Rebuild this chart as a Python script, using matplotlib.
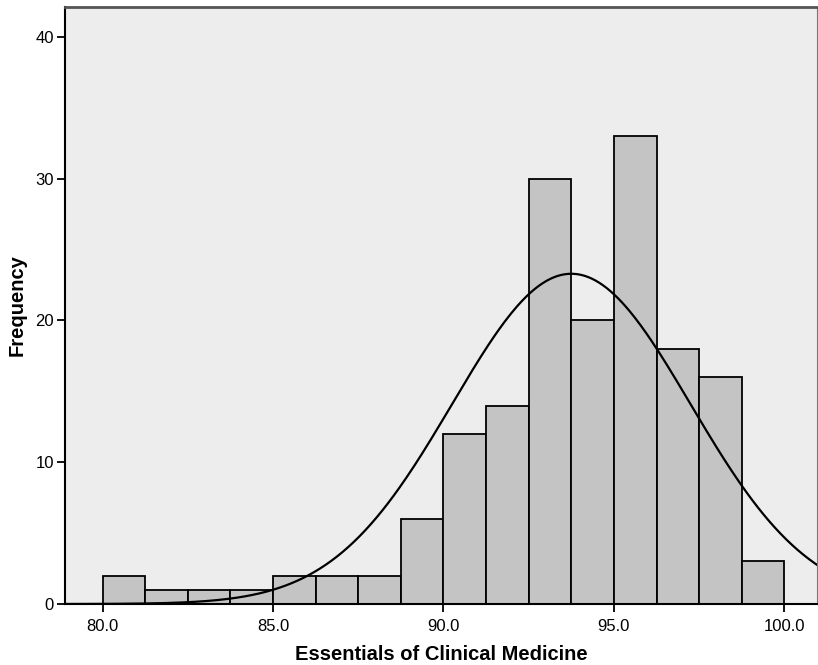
import numpy as np
import matplotlib
matplotlib.use("Agg")
import matplotlib.pyplot as plt

plt.rcParams['font.family'] = ['Liberation Sans', 'DejaVu Sans']

# histogram bins (width 1.25) and counts
bin_edges = [80.0, 81.25, 82.5, 83.75, 85.0, 86.25, 87.5, 88.75, 90.0,
             91.25, 92.5, 93.75, 95.0, 96.25, 97.5, 98.75, 100.0]
counts = [2, 1, 1, 1, 2, 2, 2, 6, 12, 14, 30, 20, 33, 18, 16, 3]

# fitted normal curve parameters
mean = 93.75
std_dev = 3.49
n_total = sum(counts)
bin_width = 1.25

xticks = [80.0, 85.0, 90.0, 95.0, 100.0]
yticks = [0, 10, 20, 30, 40]

fig = plt.figure(figsize=(8.18, 6.65), dpi=100)
ax = fig.add_axes([0.0795, 0.0917, 0.919, 0.8977])
ax.set_facecolor('#ededed')

ax.bar(bin_edges[:-1], counts, width=np.diff(bin_edges), align='edge',
       color='#c4c4c4', edgecolor='black', linewidth=1.3, zorder=2)

xs = np.linspace(78.9, 101, 400)
ys = n_total * bin_width / (std_dev * np.sqrt(2 * np.pi)) * np.exp(-0.5 * ((xs - mean) / std_dev) ** 2)
ax.plot(xs, ys, color='black', linewidth=1.6, zorder=3)

ax.set_xlim(78.9, 100.95)
ax.set_ylim(0, 42.1)
ax.set_xticks(xticks)
ax.set_xticklabels(['%.1f' % t for t in xticks])
ax.set_yticks(yticks)
ax.tick_params(axis='both', direction='out', length=6, width=1.3, labelsize=12, colors='black')
ax.tick_params(axis='x', pad=5)
ax.tick_params(axis='y', pad=2)

ax.spines['left'].set_linewidth(1.5)
ax.spines['bottom'].set_linewidth(1.5)
ax.spines['top'].set_color('#555555')
ax.spines['top'].set_linewidth(2)
ax.spines['right'].set_color('#777777')
ax.spines['right'].set_linewidth(0.8)

ax.set_xlabel('Essentials of Clinical Medicine', fontsize=14.5, fontweight='bold', labelpad=8)
ax.set_ylabel('Frequency', fontsize=14.5, fontweight='bold', labelpad=6)

plt.savefig('out.png', dpi=100)
